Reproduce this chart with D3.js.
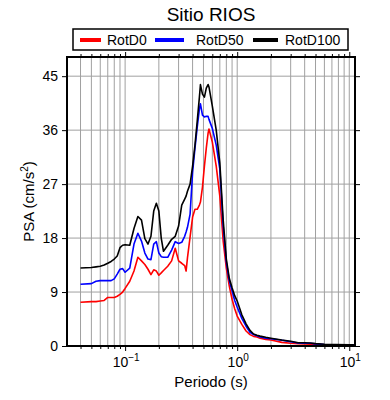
<!DOCTYPE html>
<html>
<head>
<meta charset="utf-8">
<script src="https://cdn.jsdelivr.net/npm/d3@7"></script>
<style>
    body { margin: 0; background: #fff; }
    text { font-family: "Liberation Sans", Arial, sans-serif; fill: #000; }
</style>
</head>
<body>
<script>
var periods = [0.04, 0.05, 0.055, 0.06, 0.065, 0.07, 0.075, 0.08, 0.085, 0.09,
    0.095, 0.1, 0.11, 0.12, 0.13, 0.14, 0.15, 0.16, 0.17, 0.18,
    0.19, 0.2, 0.21, 0.22, 0.24, 0.26, 0.28, 0.3, 0.32, 0.34,
    0.35, 0.36, 0.38, 0.4, 0.42, 0.44, 0.46, 0.47, 0.49, 0.51,
    0.53, 0.55, 0.56, 0.6, 0.65, 0.7, 0.75, 0.8, 0.85, 0.9,
    0.95, 1.0, 1.1, 1.2, 1.3, 1.4, 1.5, 1.6, 1.8, 2.0,
    2.5, 3.0, 3.5, 4.0, 4.5, 5.0, 6.0, 7.5, 10.0, 11.0];

var rotD0 = [7.3, 7.4, 7.4, 7.5, 7.6, 8.1, 8.1, 8.1, 8.3, 8.6,
    9.0, 9.6, 10.8, 12.5, 14.8, 14.2, 13.6, 12.8, 11.9, 12.7,
    12.5, 11.8, 12.2, 12.6, 13.3, 14.2, 16.3, 14.2, 13.8, 13.4,
    12.5, 14.7, 18.2, 21.5, 22.8, 22.8, 23.5, 24.0, 26.5, 30.0,
    33.0, 35.5, 36.2, 34.0, 30.0, 25.0, 17.5, 13.0, 10.0, 7.8,
    6.2, 5.0, 3.6, 2.5, 1.9, 1.6, 1.5, 1.3, 1.1, 1.0,
    0.6, 0.45, 0.4, 0.35, 0.3, 0.3, 0.2, 0.15, 0.12, 0.12];

var rotD50 = [10.3, 10.4, 10.8, 10.9, 10.9, 10.9, 10.9, 11.2, 12.0, 12.8,
    12.9, 12.3, 13.0, 17.0, 18.8, 17.5, 15.5, 14.5, 14.4, 17.0,
    17.4, 15.5, 14.9, 14.8, 14.8, 16.0, 17.4, 17.1, 17.3, 18.3,
    19.0, 19.8, 22.0, 29.0, 33.0, 36.5, 39.5, 40.4, 38.5, 38.2,
    38.3, 38.3, 37.8, 36.3, 33.5, 29.5, 20.0, 14.0, 10.9, 9.2,
    7.6, 6.5, 4.6, 3.3, 2.3, 1.9, 1.7, 1.5, 1.3, 1.2,
    0.95, 0.7, 0.5, 0.45, 0.45, 0.35, 0.25, 0.2, 0.18, 0.18];

var rotD100 = [13.0, 13.1, 13.2, 13.3, 13.5, 13.8, 14.1, 14.5, 15.0, 16.4,
    16.8, 16.9, 16.8, 19.6, 21.6, 21.0, 17.9, 17.0, 18.3, 22.5,
    23.8, 22.5, 18.0, 15.8, 16.8, 17.8, 18.3, 20.0, 23.5, 24.5,
    25.0, 25.8, 27.0, 30.0, 33.5, 37.5, 41.5, 43.6, 42.0, 41.5,
    43.0, 43.6, 43.2, 40.0, 36.0, 30.5, 21.0, 14.5, 11.3, 9.7,
    8.4, 7.5, 5.2, 3.7, 2.6, 2.0, 1.8, 1.65, 1.45, 1.3,
    1.0, 0.8, 0.55, 0.55, 0.5, 0.4, 0.3, 0.25, 0.2, 0.2];

var seriesNames = ["RotD0", "RotD50", "RotD100"];
var seriesColors = ["#ff0000", "#0000ff", "#000000"];
var yTicks = [0, 9, 18, 27, 36, 45];
var xMajor = [0.1, 1, 10];

var width = 390, height = 400;
var plotLeft = 67, plotRight = 355, plotTop = 57, plotBottom = 346;

var svg = d3.select("body").append("svg")
    .attr("width", width)
    .attr("height", height);

var x = d3.scaleLog().domain([0.0303, 11.25]).range([plotLeft, plotRight]);
var y = d3.scaleLinear().domain([0, 48.2]).range([plotBottom, plotTop]);

// all log ticks (1..9 per decade) inside the domain
var xMinor = [];
[0.01, 0.1, 1, 10].forEach(function (d) {
    for (var k = 1; k < 10; k++) {
        var v = d * k;
        if (v >= x.domain()[0] && v <= x.domain()[1]) xMinor.push(v);
    }
});

// grid
svg.append("g").selectAll("line")
    .data(xMinor)
    .enter().append("line")
    .attr("x1", d => x(d)).attr("x2", d => x(d))
    .attr("y1", plotTop).attr("y2", plotBottom)
    .attr("stroke", "#a0a0a0").attr("stroke-width", 1);

svg.append("g").selectAll("line")
    .data(yTicks.slice(1))
    .enter().append("line")
    .attr("x1", plotLeft).attr("x2", plotRight)
    .attr("y1", d => y(d)).attr("y2", d => y(d))
    .attr("stroke", "#a0a0a0").attr("stroke-width", 1);

// curves
var allSeries = [rotD0, rotD50, rotD100];
var line = d3.line()
    .x((d, i) => x(periods[i]))
    .y(d => y(d));

allSeries.forEach(function (s, i) {
    svg.append("path")
        .datum(s)
        .attr("d", line)
        .attr("fill", "none")
        .attr("stroke", seriesColors[i])
        .attr("stroke-width", 1.6)
        .attr("stroke-linejoin", "round");
});

// axes (ticks outside on all four sides)
function isMajor(d) {
    return xMajor.some(m => Math.abs(m - d) < 1e-9);
}

var bottomAxis = d3.axisBottom(x).tickValues(xMinor).tickFormat("").tickSizeOuter(0);
var topAxis = d3.axisTop(x).tickValues(xMinor).tickFormat("").tickSizeOuter(0);

[[bottomAxis, plotBottom, 1], [topAxis, plotTop, -1]].forEach(function (a) {
    var g = svg.append("g")
        .attr("transform", "translate(0," + a[1] + ")")
        .call(a[0]);
    g.select(".domain").remove();
    g.selectAll(".tick line")
        .attr("y2", d => a[2] * (isMajor(d) ? 5 : 3))
        .attr("stroke", "#000");
});

var leftAxis = d3.axisLeft(y).tickValues(yTicks).tickSize(5).tickPadding(4).tickSizeOuter(0);
var gl = svg.append("g")
    .attr("transform", "translate(" + plotLeft + ",0)")
    .call(leftAxis);
gl.select(".domain").remove();
gl.selectAll("text")
    .attr("font-size", 14)
    .attr("font-family", "Liberation Sans, Arial, sans-serif");

var rightAxis = d3.axisRight(y).tickValues(yTicks).tickSize(5).tickFormat("").tickSizeOuter(0);
var gr = svg.append("g")
    .attr("transform", "translate(" + plotRight + ",0)")
    .call(rightAxis);
gr.select(".domain").remove();

// x tick labels 10^n
var xl = svg.append("g").selectAll("text")
    .data(xMajor)
    .enter().append("text")
    .attr("x", d => x(d) + 1)
    .attr("y", 367)
    .attr("text-anchor", "middle")
    .attr("font-size", 14);
xl.append("tspan").text("10");
xl.append("tspan")
    .attr("dy", -6)
    .attr("font-size", 10)
    .text(d => String(Math.round(Math.log10(d))).replace("-", "\u2212"));

// frame
svg.append("rect")
    .attr("x", plotLeft).attr("y", plotTop)
    .attr("width", plotRight - plotLeft).attr("height", plotBottom - plotTop)
    .attr("fill", "none")
    .attr("stroke", "#000")
    .attr("stroke-width", 2);

// title
svg.append("text")
    .attr("x", 211).attr("y", 21)
    .attr("text-anchor", "middle")
    .attr("font-size", 19)
    .text("Sitio RIOS");

// axis titles
svg.append("text")
    .attr("x", (plotLeft + plotRight) / 2).attr("y", 387)
    .attr("text-anchor", "middle")
    .attr("font-size", 15)
    .text("Periodo (s)");

var yl = svg.append("text")
    .attr("transform", "translate(34," + (plotTop + plotBottom) / 2 + ") rotate(-90)")
    .attr("text-anchor", "middle")
    .attr("font-size", 15);
yl.append("tspan").text("PSA (cm/s");
yl.append("tspan").attr("dy", -6).attr("font-size", 10).text("2");
yl.append("tspan").attr("dy", 6).text(")");

// legend
svg.append("rect")
    .attr("x", 73).attr("y", 29)
    .attr("width", 275).attr("height", 21)
    .attr("fill", "#fff")
    .attr("stroke", "#000")
    .attr("stroke-width", 1.5);

var legendLineX = [80, 155, 253];
var legendLineW = [21, 29, 25];
var legendTextX = [107, 196, 285];

seriesNames.forEach(function (n, i) {
    svg.append("line")
        .attr("x1", legendLineX[i]).attr("x2", legendLineX[i] + legendLineW[i])
        .attr("y1", 40).attr("y2", 40)
        .attr("stroke", seriesColors[i])
        .attr("stroke-width", 4);
    svg.append("text")
        .attr("x", legendTextX[i]).attr("y", 45)
        .attr("font-size", 14)
        .text(n);
});
</script>
</body>
</html>
